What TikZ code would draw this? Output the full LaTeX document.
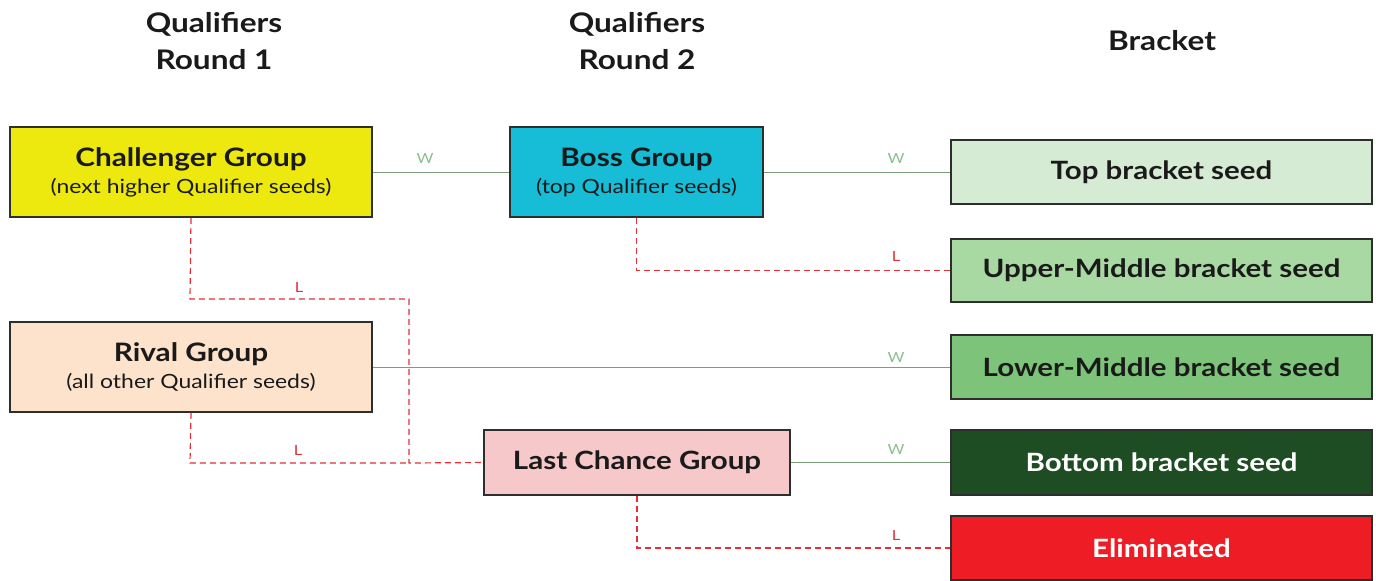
\documentclass[tikz,border=0pt]{standalone}
\usepackage{fontspec}
\setmainfont{Lato}[FakeStretch=1.17]
\definecolor{bordc}{HTML}{2E2E2E}
\definecolor{chal}{HTML}{EDE90E}
\definecolor{boss}{HTML}{17BCD6}
\definecolor{rival}{HTML}{FDE3CC}
\definecolor{lastc}{HTML}{F7C8CA}
\definecolor{topb}{HTML}{D5EBD3}
\definecolor{upb}{HTML}{A9D9A3}
\definecolor{lowb}{HTML}{7DC47A}
\definecolor{botb}{HTML}{1E4D24}
\definecolor{elim}{HTML}{EE1C24}
\definecolor{winc}{HTML}{7A9E7A}
\definecolor{winl}{HTML}{8BBF8B}
\definecolor{losc}{HTML}{E0303A}
\definecolor{txt}{HTML}{1A1A1A}
\tikzset{
  grp/.style={draw=bordc, line width=0.8pt, inner sep=0pt, align=center, text=txt},
  hdr/.style={font=\bfseries\fontsize{13.5}{18.5}\selectfont, align=center, text=txt},
  main/.style={font=\bfseries\fontsize{12.6}{14}\selectfont},
  win/.style={draw=winc, line width=0.5pt},
  lose/.style={draw=losc, line width=0.6pt, dash pattern=on 3pt off 2pt},
  wl/.style={font=\fontsize{7}{8}\selectfont, text=winl, inner sep=0pt},
  ll/.style={font=\fontsize{7}{8}\selectfont, text=losc, inner sep=0pt},
}
\newcommand{\subl}[1]{{\fontsize{9.8}{11}\selectfont\mdseries #1}}
\newcommand{\ttl}[1]{{\bfseries\fontsize{12.7}{14}\selectfont #1}}
\begin{document}
\begin{tikzpicture}[x=0.5pt,y=-0.5pt]
\useasboundingbox (0,0) rectangle (1376,580);
% headers
\node[hdr] (h1) at (214,41) {Qualifiers\\Round 1};
\node[hdr] (h2) at (637,41) {Qualifiers\\Round 2};
\node[hdr] (h3) at (1162,41) {Bracket};
% groups
\node[grp, fill=chal, minimum width=181pt, minimum height=45pt] (chal) at (191,172)
  {\ttl{Challenger Group}\\[1.5pt]\subl{(next higher Qualifier seeds)}};
\node[grp, fill=boss, minimum width=126.5pt, minimum height=45pt] (boss) at (636.5,172)
  {\ttl{Boss Group}\\[1.5pt]\subl{(top Qualifier seeds)}};
\node[grp, fill=rival, minimum width=181pt, minimum height=45pt] (rival) at (191,367)
  {\ttl{Rival Group}\\[1.5pt]\subl{(all other Qualifier seeds)}};
\node[grp, fill=lastc, minimum width=153pt, minimum height=32.5pt, main] (last) at (637,462.5) {Last Chance Group};
% bracket
\node[grp, fill=topb, minimum width=210.5pt, minimum height=32pt, main] (top) at (1161.5,172) {Top bracket seed};
\node[grp, fill=upb, minimum width=210.5pt, minimum height=31.5pt, main] (up) at (1161.5,270.5) {Upper-Middle bracket seed};
\node[grp, fill=lowb, minimum width=210.5pt, minimum height=32pt, main] (low) at (1161.5,367) {Lower-Middle bracket seed};
\node[grp, fill=botb, minimum width=210.5pt, minimum height=32.5pt, main, text=white] (bot) at (1161.5,462.5) {Bottom bracket seed};
\node[grp, fill=elim, minimum width=210.5pt, minimum height=32pt, main, text=white] (elim) at (1161.5,548) {Eliminated};
% coordinates
\coordinate (c1) at (190,299);
\coordinate (c2) at (409,299);
\coordinate (c3) at (409,463);
\coordinate (r1) at (190,463);
% connectors
\draw[win] (chal.east) -- (boss.west);
\draw[win] (boss.east) -- (top.west);
\draw[win] (rival.east) -- (low.west);
\draw[win] (last.east) -- (bot.west);
\draw[lose] (boss.south) |- (up.west);
\draw[lose] (last.south) |- (elim.west);
\draw[lose] (chal.south) -- (c1) -- (c2) -- (c3) -- (last.west);
\draw[lose] (rival.south) -- (r1) -- (c3);
% labels
\node[wl] (w1) at (425,158) {W};
\node[wl] (w2) at (896,158) {W};
\node[wl] (w3) at (896,357) {W};
\node[wl] (w4) at (896,449) {W};
\node[ll] (l1) at (896,256) {L};
\node[ll] (l2) at (299,287) {L};
\node[ll] (l3) at (298,450) {L};
\node[ll] (l4) at (896,535) {L};
\end{tikzpicture}
\end{document}
